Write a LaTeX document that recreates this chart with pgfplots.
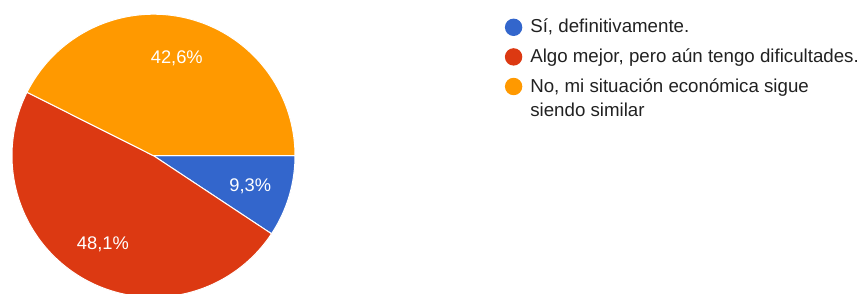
\documentclass[border=0pt]{standalone}
\usepackage{fontspec}
\setmainfont{Liberation Sans}
\usepackage{pgfplots}
\usepackage{pgfplotstable}
\pgfplotsset{compat=1.18}
\definecolor{gblue}{HTML}{3366CC}
\definecolor{gred}{HTML}{DC3912}
\definecolor{gorange}{HTML}{FF9900}
\definecolor{gtext}{HTML}{212121}
\pgfplotstableread{
pct
9.3
48.1
42.6
}\piedata
\begin{document}
\begin{tikzpicture}
\pgfplotstablegetelem{0}{pct}\of\piedata \let\pA\pgfplotsretval
\pgfplotstablegetelem{1}{pct}\of\piedata \let\pB\pgfplotsretval
\pgfplotstablegetelem{2}{pct}\of\piedata \let\pC\pgfplotsretval
\def\cx{153.5}\def\cy{137.3}\def\r{141.5}\def\rl{101}
\pgfmathsetmacro\aA{-3.6*\pA}
\pgfmathsetmacro\aB{\aA-3.6*\pB}
\pgfmathsetmacro\aC{\aB-3.6*\pC}
\pgfmathsetmacro\mA{\aA/2}
\pgfmathsetmacro\mB{(\aA+\aB)/2}
\pgfmathsetmacro\mC{(\aB+\aC)/2}
\pgfmathsetmacro\lAx{\cx+\rl*cos(\mA)}\pgfmathsetmacro\lAy{\cy+\rl*sin(\mA)-6.5}
\pgfmathsetmacro\lBx{\cx+\rl*cos(\mB)}\pgfmathsetmacro\lBy{\cy+\rl*sin(\mB)-6.5}
\pgfmathsetmacro\lCx{\cx+\rl*cos(\mC)}\pgfmathsetmacro\lCy{\cy+\rl*sin(\mC)-6.5}
\begin{axis}[
  width=864pt, height=293pt, scale only axis,
  xmin=0, xmax=864, ymin=0, ymax=293,
  hide axis,
  legend style={at={(axis cs:504.7,274.6)}, anchor=north west,
    draw=none, fill=none, inner sep=0pt, row sep=11.4pt,
    font=\fontsize{18.7}{24.5}\selectfont\color{gtext},
    cells={anchor=base west},
    nodes={inner sep=0pt, text height=14pt, text depth=4pt},
    /tikz/every odd column/.append style={column sep=8pt}},
  legend image code/.code={\fill[#1,draw=none] (8.7pt,5.5pt) circle (8.7pt);},
]
\addplot[fill=gblue, draw=white, line width=1pt, domain=\aA:0, samples=40, variable=\t]
  ({\cx+\r*cos(\t)},{\cy+\r*sin(\t)}) -- (axis cs:\cx,\cy) -- cycle;
\addlegendentry{Sí, definitivamente.}
\addplot[fill=gred, draw=white, line width=1pt, domain=\aB:\aA, samples=120, variable=\t]
  ({\cx+\r*cos(\t)},{\cy+\r*sin(\t)}) -- (axis cs:\cx,\cy) -- cycle;
\addlegendentry{Algo mejor, pero aún tengo dificultades.}
\addplot[fill=gorange, draw=white, line width=1pt, domain=\aC:\aB, samples=120, variable=\t]
  ({\cx+\r*cos(\t)},{\cy+\r*sin(\t)}) -- (axis cs:\cx,\cy) -- cycle;
\addlegendentry{\begin{tabular}[t]{@{}l@{}}No, mi situación económica sigue\\siendo similar\end{tabular}}
\node[anchor=base, text=white, font=\fontsize{18.3}{20}\selectfont] at (axis cs:\lAx,\lAy) {9,3\%};
\node[anchor=base, text=white, font=\fontsize{18.3}{20}\selectfont] at (axis cs:\lBx,\lBy) {48,1\%};
\node[anchor=base, text=white, font=\fontsize{18.3}{20}\selectfont] at (axis cs:\lCx,\lCy) {42,6\%};
\end{axis}
\pgfresetboundingbox
\path (current axis.south west) rectangle (current axis.north east);
\end{tikzpicture}
\end{document}
